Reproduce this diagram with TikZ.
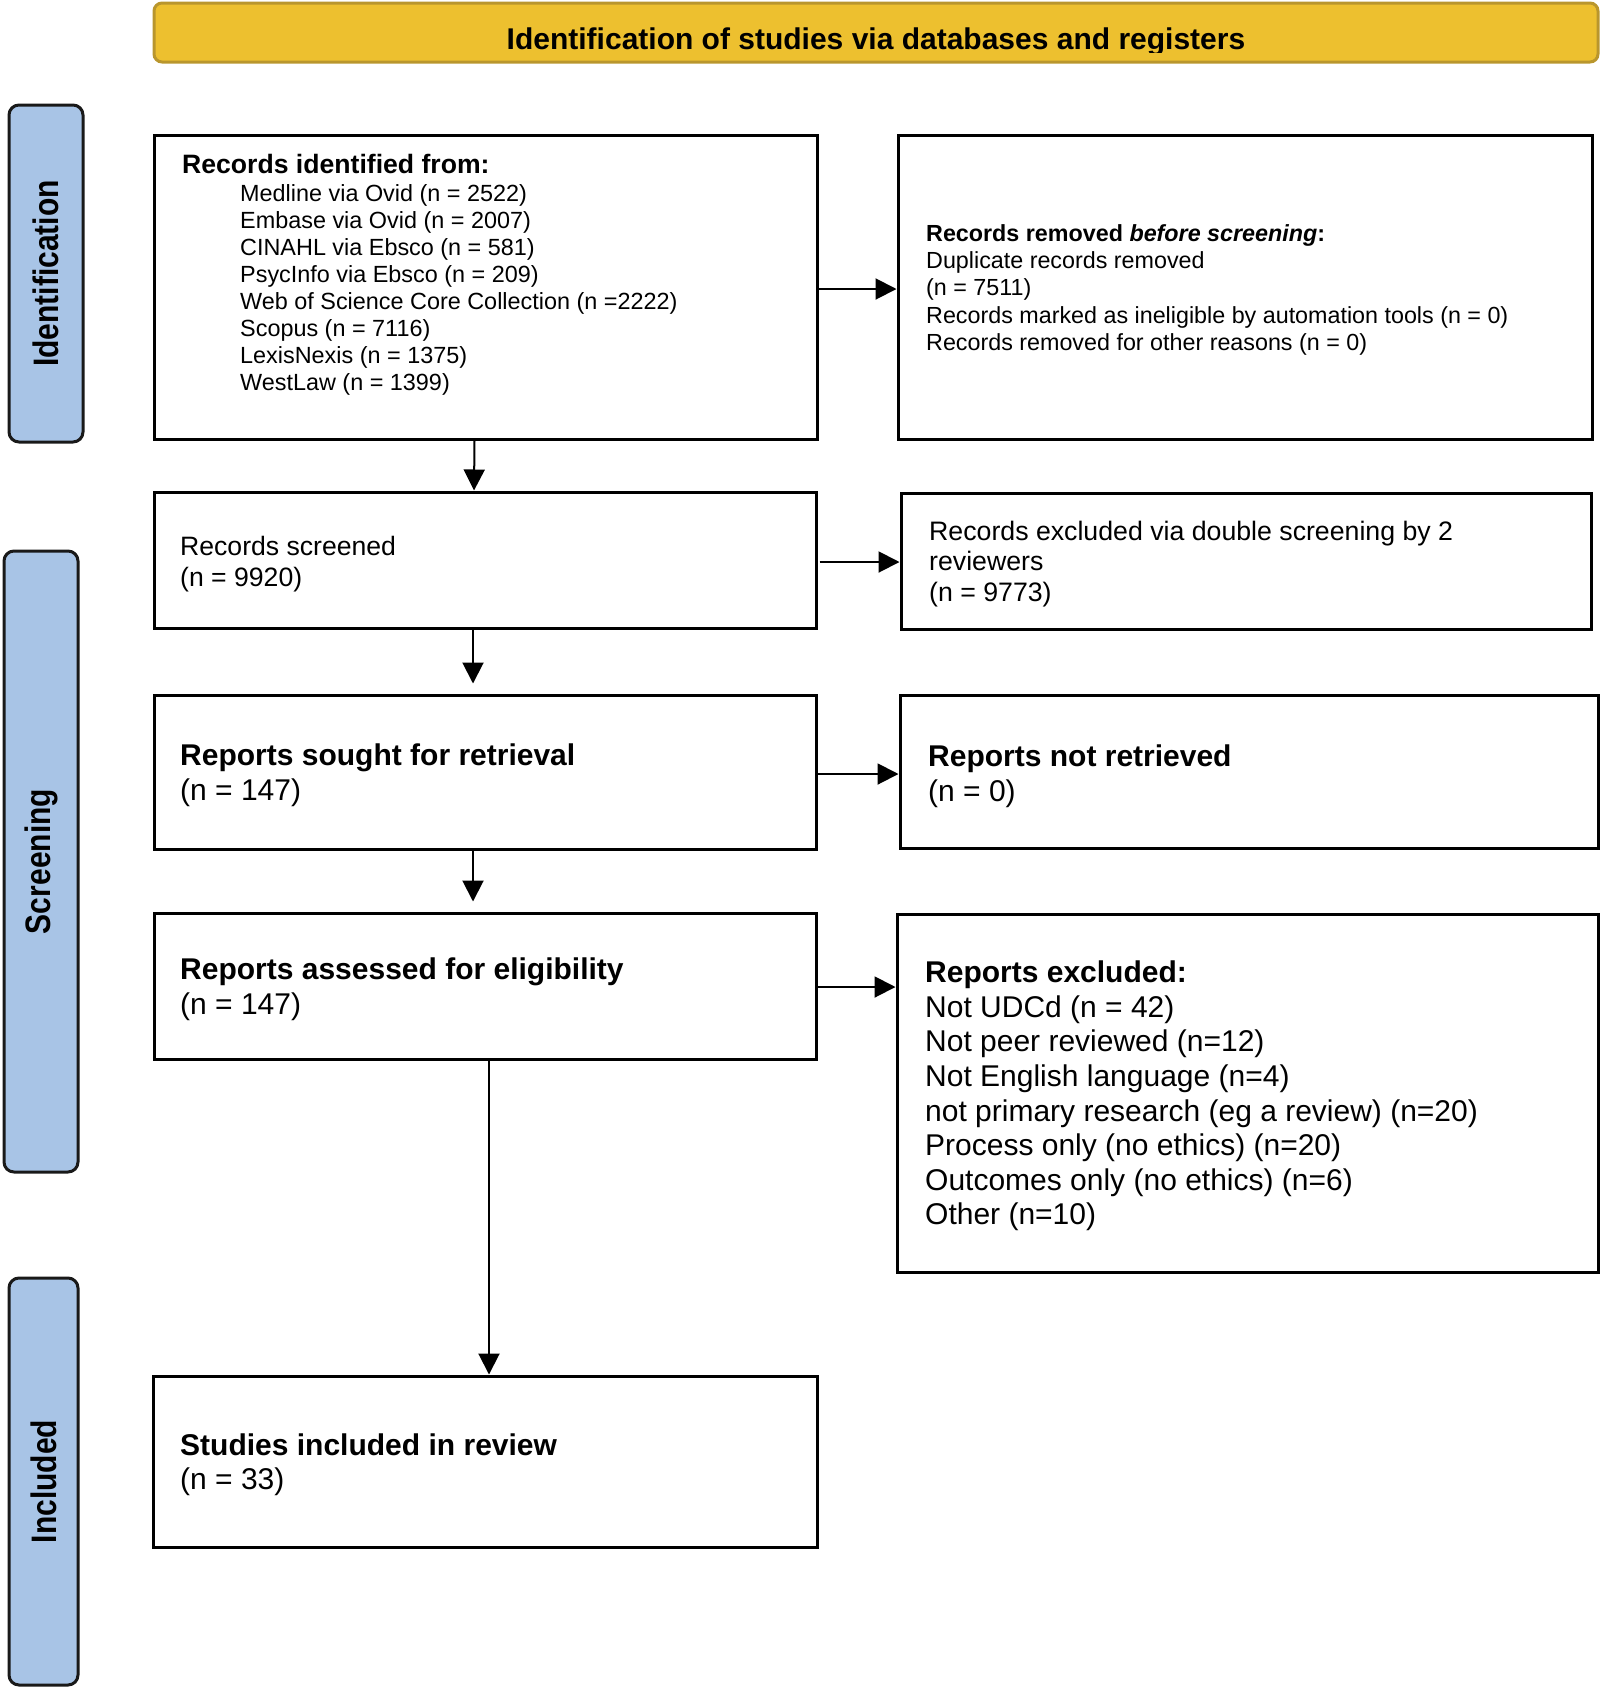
\documentclass[tikz,border=0pt]{standalone}
\usepackage{fontspec}
\setmainfont{Liberation Sans}
\usetikzlibrary{arrows.meta}
\definecolor{bannerfill}{RGB}{237,192,47}
\definecolor{bannerdraw}{RGB}{185,150,45}
\definecolor{sidefill}{RGB}{168,196,230}
\begin{document}
\begin{tikzpicture}[x=1pt,y=-1pt,
  box/.style={draw=black,line width=3pt,fill=white,inner sep=0pt},
  side/.style={draw=black!90,line width=3pt,fill=sidefill,rounded corners=10pt,inner sep=0pt},
  arr/.style={line width=2pt,-{Triangle[length=21pt,width=21pt]}},
  txt/.style={anchor=base west,inner sep=0pt},
  sidelabel/.style={rotate=90,inner sep=0pt,font=\fontsize{30}{36}\selectfont\bfseries},
]
\useasboundingbox (0,0) rectangle (1604,1690);

% banner
\node[draw=bannerdraw,fill=bannerfill,line width=3pt,rounded corners=8pt,inner sep=0pt,
      minimum width=1444pt,minimum height=59pt] (banner) at (876,32.5) {};
\begin{scope}
  \clip (154,3) rectangle (1598,52);
  \node[anchor=base,inner sep=0pt] (title) at (876,49)
    {\fontsize{30}{36}\selectfont\bfseries Identification of studies via databases and registers};
\end{scope}

% side bars
\node[side,minimum width=74pt,minimum height=337pt] (sid) at (46,273.5) {};
\node[sidelabel] (sidl) at (sid.center) {\scalebox{1}[1.18]{Identification}};
\node[side,minimum width=74pt,minimum height=621pt] (ssc) at (41,861.5) {};
\node[sidelabel] (sscl) at (ssc.center) {\scalebox{1}[1.18]{Screening}};
\node[side,minimum width=69pt,minimum height=407pt] (sin) at (43.5,1481.5) {};
\node[sidelabel] (sinl) at (sin.center) {\scalebox{1}[1.18]{Included}};

% boxes
\node[box,minimum width=663pt,minimum height=304pt] (b1) at (485.5,287) {};
\node[box,minimum width=694pt,minimum height=304pt] (b2) at (1245,287) {};
\node[box,minimum width=662pt,minimum height=136pt] (b3) at (485,560) {};
\node[box,minimum width=690pt,minimum height=136pt] (b4) at (1246,561) {};
\node[box,minimum width=662pt,minimum height=154pt] (b5) at (485,772) {};
\node[box,minimum width=698pt,minimum height=153pt] (b6) at (1249,771.5) {};
\node[box,minimum width=662pt,minimum height=146pt] (b7) at (485,986) {};
\node[box,minimum width=701pt,minimum height=358pt] (b8) at (1247.5,1093) {};
\node[box,minimum width=664pt,minimum height=171pt] (b9) at (485,1461.5) {};

% box 1 text
\node[txt] (t1h) at (182,173) {\fontsize{26.6}{30}\selectfont\bfseries Records identified from:};
\foreach \s [count=\i from 0] in {{Medline via Ovid (n = 2522)},{Embase via Ovid (n = 2007)},{CINAHL via Ebsco (n = 581)},{PsycInfo via Ebsco (n = 209)},{Web of Science Core Collection (n =2222)},{Scopus (n = 7116)},{LexisNexis (n = 1375)},{WestLaw (n = 1399)}}
  \node[txt,name=t1l\i] at (240,201.7+26.9*\i) {\fontsize{23.4}{27}\selectfont \s};

% box 2 text
\node[txt] (t2h) at (926,241.7) {\fontsize{23.3}{27}\selectfont\bfseries Records removed \textit{before screening}:};
\foreach \s [count=\i from 1] in {{Duplicate records removed},{(n = 7511)},{Records marked as ineligible by automation tools (n = 0)},{Records removed for other reasons (n = 0)}}
  \node[txt,name=t2l\i] at (926,241.7+27.1*\i) {\fontsize{23.3}{27}\selectfont \s};

% box 3 text
\node[txt] (t3a) at (180,555) {\fontsize{26.6}{31}\selectfont Records screened};
\node[txt] (t3b) at (180,586) {\fontsize{26.6}{31}\selectfont (n = 9920)};

% box 4 text
\node[txt] (t4a) at (929,540) {\fontsize{26.7}{31}\selectfont Records excluded via double screening by 2};
\node[txt] (t4b) at (929,570.5) {\fontsize{26.7}{31}\selectfont reviewers};
\node[txt] (t4c) at (929,601) {\fontsize{26.7}{31}\selectfont (n = 9773)};

% box 5 text
\node[txt] (t5a) at (180,765) {\fontsize{30}{35}\selectfont\bfseries Reports sought for retrieval};
\node[txt] (t5b) at (180,800) {\fontsize{30}{35}\selectfont (n = 147)};

% box 6 text
\node[txt] (t6a) at (928,766) {\fontsize{30}{35}\selectfont\bfseries Reports not retrieved};
\node[txt] (t6b) at (928,801) {\fontsize{30}{35}\selectfont (n = 0)};

% box 7 text
\node[txt] (t7a) at (180,979.4) {\fontsize{30}{35}\selectfont\bfseries Reports assessed for eligibility};
\node[txt] (t7b) at (180,1014) {\fontsize{30}{35}\selectfont (n = 147)};

% box 8 text
\node[txt] (t8h) at (925,982.5) {\fontsize{30}{35}\selectfont\bfseries Reports excluded:};
\foreach \s [count=\i from 1] in {{Not UDCd (n = 42)},{Not peer reviewed (n=12)},{Not English language (n=4)},{not primary research (eg a review) (n=20)},{Process only (no ethics) (n=20)},{Outcomes only (no ethics) (n=6)},{Other (n=10)}}
  \node[txt,name=t8l\i] at (925,982.5+34.64*\i) {\fontsize{30}{35}\selectfont \s};

% box 9 text
\node[txt] (t9a) at (180,1455) {\fontsize{30}{35}\selectfont\bfseries Studies included in review};
\node[txt] (t9b) at (180,1489) {\fontsize{30}{35}\selectfont (n = 33)};

% vertical arrows
\draw[arr] ([xshift=-11pt]b1.south) -- ([xshift=-11pt]b3.north);
\draw[arr] ([xshift=-12pt]b3.south) -- ([xshift=-12pt,yshift=10pt]b5.north);
\draw[arr] ([xshift=-12pt]b5.south) -- ([xshift=-12pt,yshift=10pt]b7.north);
\draw[arr] ([xshift=4pt]b7.south) -- ([xshift=4pt]b9.north);

% horizontal arrows
\path ([yshift=-2pt]b1.east) coordinate (a1)
      ([yshift=-2pt,xshift=2pt]b3.east) coordinate (a3)
      ([yshift=-2pt]b5.east) coordinate (a5)
      ([yshift=-1pt]b7.east) coordinate (a7);
\draw[arr] (a1) -- (a1 -| b2.west);
\draw[arr] (a3) -- (a3 -| b4.west);
\draw[arr] (a5) -- (a5 -| b6.west);
\draw[arr] (a7) -- (a7 -| b8.west);
\end{tikzpicture}
\end{document}
